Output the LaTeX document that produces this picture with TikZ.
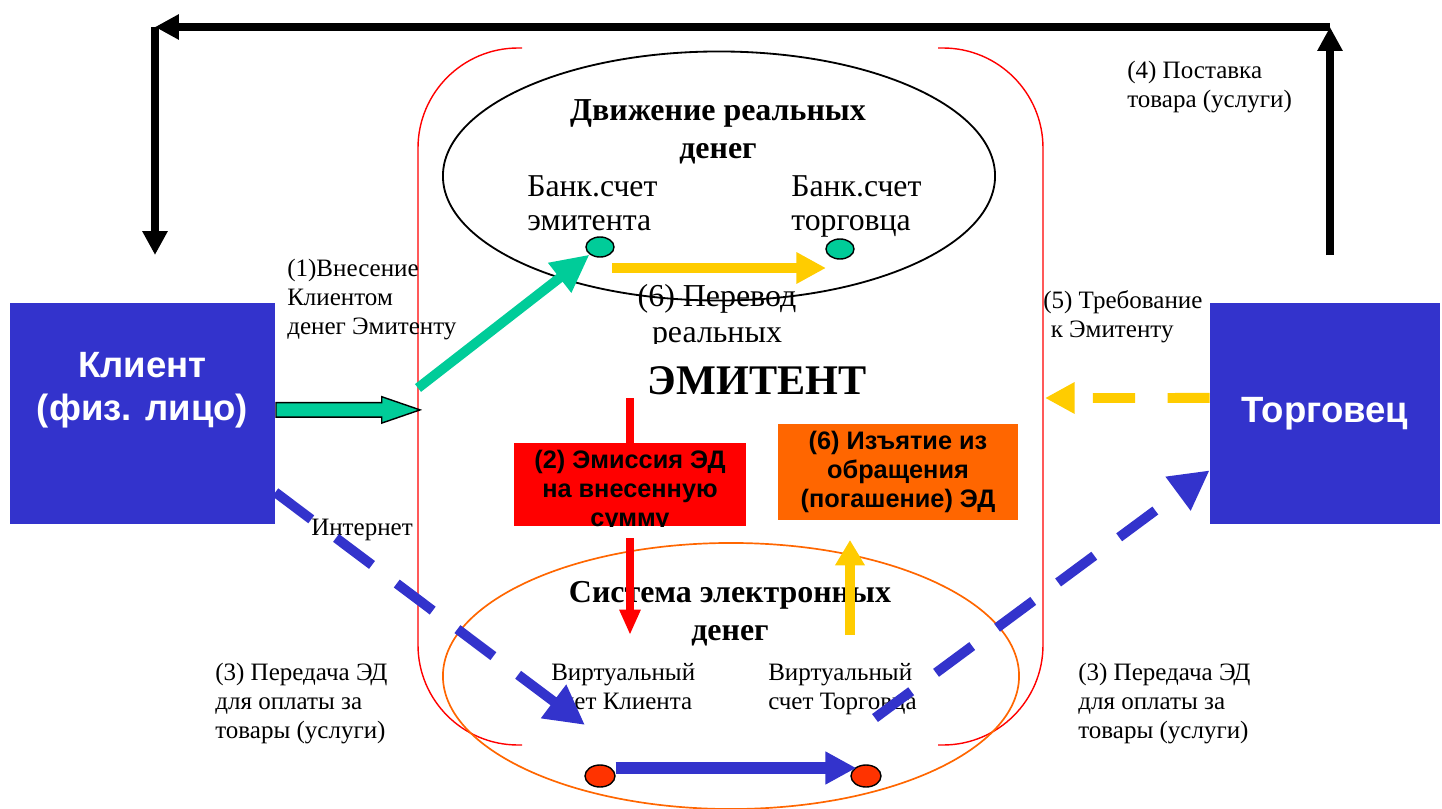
\documentclass[tikz,border=0pt]{standalone}
\usepackage{fontspec}
\setmainfont{Liberation Serif}
\setsansfont{Liberation Sans}
\usetikzlibrary{arrows.meta,shapes.geometric,shapes.arrows}

\definecolor{boxblue}{HTML}{3333CC}
\definecolor{emgreen}{HTML}{00CC99}
\definecolor{emyellow}{HTML}{FFCC00}
\definecolor{emorange}{HTML}{FF6600}
\definecolor{emred}{HTML}{FF0000}
\definecolor{dotred}{HTML}{FF3300}

\tikzset{
  actor/.style={fill=boxblue,text=white,font=\sffamily\bfseries\fontsize{26}{30.6}\selectfont,align=center,inner sep=0},
  boxtext/.style={font=\sffamily\bfseries\fontsize{18}{20.6}\selectfont,align=center,inner sep=0},
  lbl/.style={font=\fontsize{17.8}{20.6}\selectfont,align=left,inner sep=0},
  acct/.style={font=\fontsize{22.6}{24.2}\selectfont,align=left,inner sep=0},
  head/.style={font=\bfseries\fontsize{22.7}{27.2}\selectfont,align=center,inner sep=0},
  acctdot/.style={ellipse,draw,line width=1pt,minimum width=0.7cm,minimum height=0.5cm,inner sep=0},
  blackarr/.style={line width=5pt,-{Triangle[length=17pt,width=17pt]}},
  greenarr/.style={emgreen,line width=7pt,-{Triangle[length=27pt,width=25pt]}},
  yellowarr/.style={emyellow,line width=7pt,-{Triangle[length=21pt,width=21pt]}},
  redarr/.style={emred,line width=5pt,-{Triangle[length=18pt,width=14pt]}},
  bluearr/.style={boxblue,line width=7pt,dash pattern=on 32pt off 22pt,-{Triangle[length=28pt,width=28pt]}}
}

\begin{document}
\begin{tikzpicture}[x=0.025cm,y=-0.025cm]
\useasboundingbox (0,0) rectangle (1442,809);

% issuer frame, two brackets
\draw[emred,line width=1pt,rounded corners=2.5cm] (522,48) -- (418,48) -- (418,745) -- (522,745);
\draw[emred,line width=1pt,rounded corners=2.5cm] (938,48) -- (1043,48) -- (1043,745) -- (938,745);

% the two systems
\node[ellipse,draw,line width=1.3pt,minimum width=13.8cm,minimum height=6.225cm,inner sep=0] (realm) at (719,176) {};
\node[ellipse,draw=emorange,line width=1.2pt,minimum width=14.4cm,minimum height=6.65cm,inner sep=0] (elm) at (731,676) {};

\node[head] (realtitle) at (718,132) {Движение реальных\\денег};
\node[head] (eltitle) at (730,614) {Система электронных\\денег};
\node[font=\bfseries\fontsize{30}{34}\selectfont,inner sep=0] (emitent) at (757,381) {ЭМИТЕНТ};
\begin{scope}
\clip (500,200) rectangle (950,343);
\node[font=\fontsize{22.7}{25.6}\selectfont,align=center,inner sep=0] (perevod) at (717,317) {(6) Перевод\\реальных};
\end{scope}

% accounts
\node[acct,anchor=north west] (bankem) at (527,175) {Банк.счет\\эмитента};
\node[acct,anchor=north west] (banktor) at (791,175) {Банк.счет\\торговца};
\node[lbl,anchor=north west] (virtkl) at (551,663) {Виртуальный\\счет Клиента};
\node[lbl,anchor=north west] (virttor) at (768,663) {Виртуальный\\счет Торговца};
\node[acctdot,fill=emgreen] (bank1) at (600,247) {};
\node[acctdot,fill=emgreen] (bank2) at (840,249) {};
\node[acctdot,fill=dotred,minimum width=0.75cm,minimum height=0.55cm] (virt1) at (600,776) {};
\node[acctdot,fill=dotred,minimum width=0.75cm,minimum height=0.55cm] (virt2) at (866,776) {};

% labels
\node[lbl,anchor=north west] (vnes) at (287,259) {(1)Внесение\\Клиентом\\денег Эмитенту};
\node[lbl,anchor=north west] (treb) at (1043,290) {(5) Требование\\\hspace{0.3em}к Эмитенту};
\node[lbl,anchor=north west] (postav) at (1127,61) {(4) Поставка\\товара (услуги)};
\node[lbl] (inet) at (362,530) {Интернет};
\node[lbl,anchor=north west] (pered1) at (215,663) {(3) Передача ЭД\\для оплаты за\\товары (услуги)};
\node[lbl,anchor=north west] (pered2) at (1078,663) {(3) Передача ЭД\\для оплаты за\\товары (услуги)};

% client and merchant
\node[actor,minimum width=6.625cm,minimum height=5.525cm] (klient) at (142.5,413.5) {};
\node[actor,fill=none] (klientname) at ([yshift=0.575cm]klient.center) {Клиент\\(физ. лицо)};
\node[actor,minimum width=5.75cm,minimum height=5.525cm] (torg) at (1325,413.5) {Торговец};

% free ends
\coordinate (tr1) at (1330,255);
\coordinate (tr2) at (1330,27);
\coordinate (kl2) at (155,27);
\coordinate (kl1) at (155,255);
\coordinate (frameL) at (418,388);
\coordinate (frameR) at (1045,398);
\coordinate (moveA) at (612,268);
\coordinate (moveB) at (826,268);
\coordinate (emtop) at (630,398);
\coordinate (embot) at (630,538);
\coordinate (emend) at (630,635);
\coordinate (izbot) at (850,635);
\coordinate (iztop) at (850,540);
\coordinate (inetend) at (585,725);
\coordinate (torgstart) at (875,718);

% delivery of goods
\draw[blackarr] (tr1) -- (tr2);
\draw[blackarr] (tr2) -- (kl2);
\draw[blackarr] (kl2) -- (kl1);

% deposit
\node[single arrow,draw,fill=emgreen,line width=1pt,inner sep=0.1625cm,single arrow head extend=0.15cm,single arrow tip angle=38,minimum height=3.6cm,anchor=tail] (depo) at ([yshift=0.09cm]klient.east) {};
\draw[greenarr] (frameL) -- (bank1.south west);
\draw[yellowarr] (moveA) -- (moveB);
\draw[yellowarr,dash pattern=on 30pt off 23pt] ([yshift=0.39cm]torg.west) -- (frameR);

% emission and withdrawal
\draw[emred,line width=5pt] (emtop) -- (630,443);
\draw[redarr] (embot) -- (emend);
\draw[yellowarr,-{Triangle[length=18pt,width=20pt]}] (izbot) -- (iztop);
\node[fill=emred,minimum width=5.8cm,minimum height=2.075cm,path picture={\node[boxtext] at ([yshift=-0.15cm]path picture bounding box.center) {(2) Эмиссия ЭД\\на внесенную\\сумму};}] (emis) at (630,484.5) {};
\node[boxtext,fill=emorange,minimum width=6cm,minimum height=2.4cm] (izyat) at (898,472) {(6) Изъятие из\\обращения\\(погашение) ЭД};

% transfer of e-money
\draw[bluearr] ([yshift=0.8cm]klient.south east) -- (inetend);
\draw[bluearr] (torgstart) -- ([yshift=1.35cm]torg.south west);
\draw[boxblue,line width=8.5pt,-{Triangle[length=22pt,width=22pt]}] ([yshift=0.2cm]virt1.east) -- ([yshift=0.2cm,xshift=0.15cm]virt2.west);
\end{tikzpicture}
\end{document}
